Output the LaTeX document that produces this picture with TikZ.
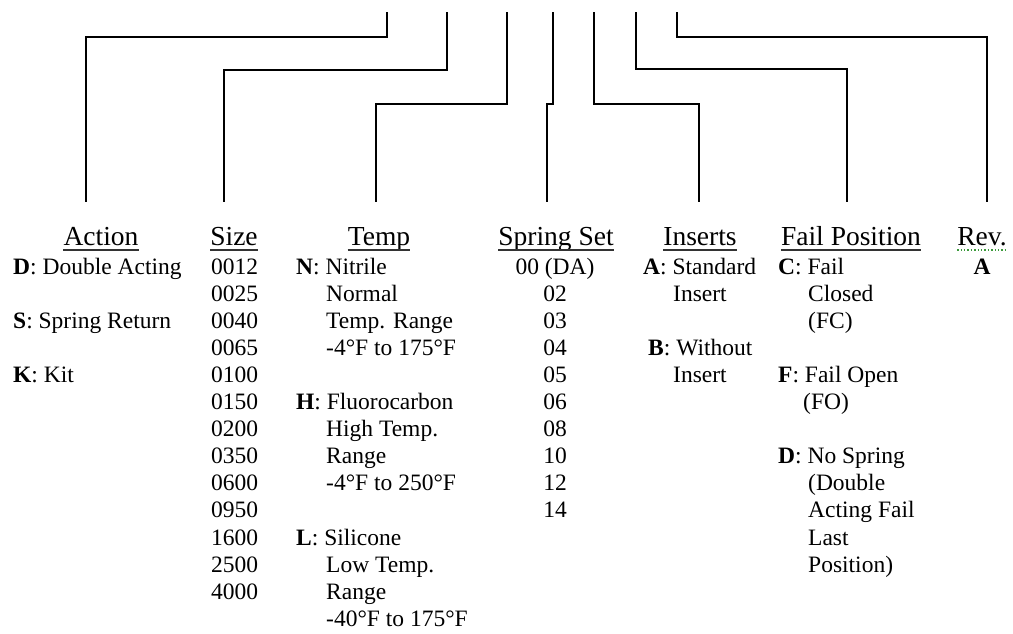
\documentclass[tikz,border=0pt]{standalone}
\usepackage{fontspec}
\setmainfont{Liberation Serif}
\definecolor{wordgreen}{HTML}{3C9A3C}
\newcommand{\indt}{\hspace*{30pt}}

\begin{document}
\begin{tikzpicture}[
    x=1pt, y=-1pt,
    lead/.style={line width=2pt, black},
    head/.style={font=\fontsize{27.5}{30}\selectfont, anchor=base, inner sep=0pt},
    entry/.style={font=\fontsize{23.5}{27.1}\selectfont, anchor=base west, align=left, inner sep=0pt},
    uline/.style={line width=1.2pt, black!80},
    revline/.style={line width=1.4pt, wordgreen, dotted}
  ]
    \useasboundingbox (0,0) rectangle (1013,633);
    % code fields at the top
    \coordinate (pin1) at (387,12);
    \coordinate (pin2) at (447,12);
    \coordinate (pin3) at (507,12);
    \coordinate (pin4) at (553,12);
    \coordinate (pin5) at (594,12);
    \coordinate (pin6) at (636,12);
    \coordinate (pin7) at (677,12);
    \coordinate (end1) at (86,202);
    \coordinate (end2) at (224,202);
    \coordinate (end3) at (376,202);
    \coordinate (end4) at (547,202);
    \coordinate (end5) at (699,202);
    \coordinate (end6) at (847,202);
    \coordinate (end7) at (987,202);
    \draw[lead] (pin1) -- ++(0,25) -| (end1);
    \draw[lead] (pin2) -- ++(0,58) -| (end2);
    \draw[lead] (pin3) -- ++(0,92) -| (end3);
    \draw[lead] (pin4) -- ++(0,92) -| (end4);
    \draw[lead] (pin5) -- ++(0,92) -| (end5);
    \draw[lead] (pin6) -- ++(0,57) -| (end6);
    \draw[lead] (pin7) -- ++(0,25) -| (end7);
    % headings
    \node[head] (hAction) at (101,245) {Action};
    \node[head] (hSize) at (234,245) {Size};
    \node[head] (hTemp) at (379,245) {Temp};
    \node[head] (hSpring) at (556,245) {Spring Set};
    \node[head] (hInserts) at (700,245) {Inserts};
    \node[head] (hFail) at (851,245) {Fail Position};
    \node[head] (hRev) at (982,245) {Rev.};
    \foreach \h in {hAction,hSize,hTemp,hSpring,hInserts,hFail}
      \draw[uline] ([yshift=-5pt]\h.base west) -- ([yshift=-5pt]\h.base east);
    \draw[revline] ([yshift=-5pt]hRev.base west) -- ([yshift=-5pt]hRev.base east);
    % options (a node's base is its last line)
    \node[entry] (aD) at (13,274) {\textbf{D}: Double Acting};
    \node[entry] (aS) at (13,{274+2*27.1}) {\textbf{S}: Spring Return};
    \node[entry] (aK) at (13,{274+4*27.1}) {\textbf{K}: Kit};
    \node[entry] (sizes) at (211,{274+12*27.1}) {0012\\0025\\0040\\0065\\0100\\0150\\0200\\0350\\0600\\0950\\1600\\2500\\4000};
    \node[entry] (tN) at (296,{274+3*27.1}) {\textbf{N}: Nitrile\\ \indt Normal\\ \indt Temp. Range\\ \indt -4°F to 175°F};
    \node[entry] (tH) at (296,{274+8*27.1}) {\textbf{H}: Fluorocarbon\\ \indt High Temp.\\ \indt Range\\ \indt -4°F to 250°F};
    \node[entry] (tL) at (296,{274+13*27.1}) {\textbf{L}: Silicone\\ \indt Low Temp.\\ \indt Range\\ \indt -40°F to 175°F};
    \node[entry, anchor=base, align=center] (springs) at (555,{274+9*27.1}) {00 (DA)\\02\\03\\04\\05\\06\\08\\10\\12\\14};
    \node[entry] (iA) at (643,{274+1*27.1}) {\textbf{A}: Standard\\ \indt Insert};
    \node[entry] (iB) at (648,{274+4*27.1}) {\textbf{B}: Without\\ \hspace*{25pt}Insert};
    \node[entry] (fC) at (778,{274+2*27.1}) {\textbf{C}: Fail\\ \indt Closed\\ \indt (FC)};
    \node[entry] (fF) at (778,{274+5*27.1}) {\textbf{F}: Fail Open\\ \hspace*{25pt}(FO)};
    \node[entry] (fD) at (778,{274+11*27.1}) {\textbf{D}: No Spring\\ \indt (Double\\ \indt Acting Fail\\ \indt Last\\ \indt Position)};
    \node[entry, anchor=base] (rA) at (982,274) {\textbf{A}};
  \end{tikzpicture}
\end{document}
